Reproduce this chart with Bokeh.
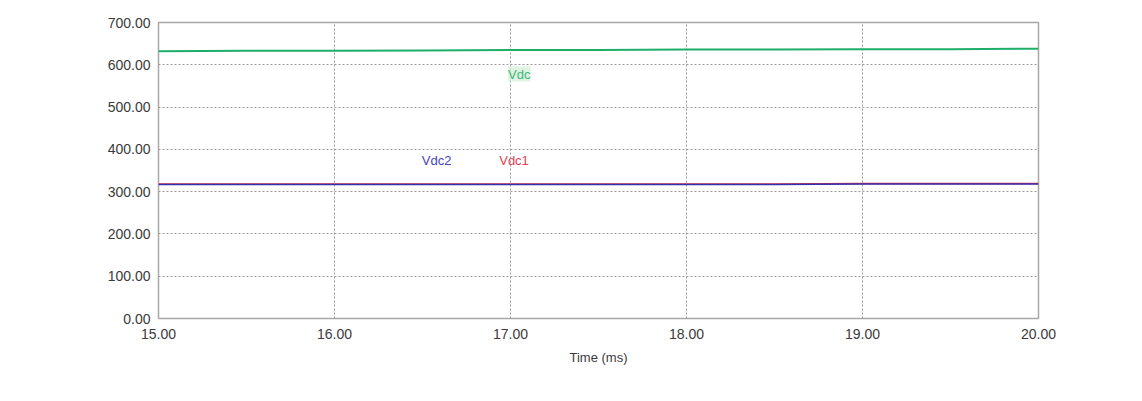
from bokeh.plotting import figure
from bokeh.models import Range1d, FixedTicker, PrintfTickFormatter, Label
from bokeh.embed import file_html
from bokeh.resources import INLINE

# Data
time_ms = [15.0, 15.5, 16.0, 16.5, 17.0, 17.5, 18.0, 18.5, 19.0, 19.5, 20.0]
vdc = [632, 633, 633, 634, 635, 635, 636, 636, 637, 637, 638]
vdc1 = [318, 318, 318, 318, 318, 318, 318, 318, 319, 319, 319]
vdc2 = [317, 317, 317, 317, 317, 317, 317, 317, 318, 318, 318]

x_ticks = [15, 16, 17, 18, 19, 20]
y_ticks = [0, 100, 200, 300, 400, 500, 600, 700]

p = figure(width=1108, height=393, output_backend="svg", toolbar_location=None,
           x_range=Range1d(15, 20), y_range=Range1d(0, 700),
           min_border_left=158, min_border_top=22, min_border_right=70, min_border_bottom=75)

p.outline_line_color = "#a8a8a8"
p.outline_line_width = 1.5
p.background_fill_color = "white"
p.border_fill_color = "white"

p.xgrid.grid_line_color = "#9a9a9a"
p.xgrid.grid_line_dash = "2 2"
p.ygrid.grid_line_color = "#9a9a9a"
p.ygrid.grid_line_dash = "2 2"

for ax in (p.xaxis[0], p.yaxis[0]):
    ax.axis_line_color = None
    ax.major_tick_line_color = None
    ax.minor_tick_line_color = None
    ax.major_label_text_font = "Liberation Sans"
    ax.major_label_text_font_size = "14px"
    ax.major_label_text_color = "#3a3a3a"
    ax.formatter = PrintfTickFormatter(format="%.2f")

p.xaxis.ticker = FixedTicker(ticks=x_ticks)
p.yaxis.ticker = FixedTicker(ticks=y_ticks)
p.xaxis.major_label_standoff = 4
p.yaxis.major_label_standoff = 2
p.xaxis.axis_label = "Time (ms)"
p.xaxis.axis_label_text_font = "Liberation Sans"
p.xaxis.axis_label_text_font_size = "13px"
p.xaxis.axis_label_text_font_style = "normal"
p.xaxis.axis_label_text_color = "#3a3a3a"
p.xaxis.axis_label_standoff = 8

p.line(time_ms, vdc1, line_color="#e03040", line_width=1.5)
p.line(time_ms, vdc2, line_color="#3030b0", line_width=1.5)
p.line(time_ms, vdc, line_color="#1fae6a", line_width=2)

p.add_layout(Label(x=17.05, y=578, text="Vdc", text_color="#3cb878",
                   text_font="Liberation Sans", text_font_size="13px",
                   text_align="center", text_baseline="middle",
                   background_fill_color="#d8f0dc", background_fill_alpha=0.8))
p.add_layout(Label(x=16.58, y=374, text="Vdc2", text_color="#4444bb",
                   text_font="Liberation Sans", text_font_size="13px",
                   text_align="center", text_baseline="middle"))
p.add_layout(Label(x=17.02, y=374, text="Vdc1", text_color="#e04050",
                   text_font="Liberation Sans", text_font_size="13px",
                   text_align="center", text_baseline="middle"))

open("out.html", "w").write(file_html(p, INLINE))
